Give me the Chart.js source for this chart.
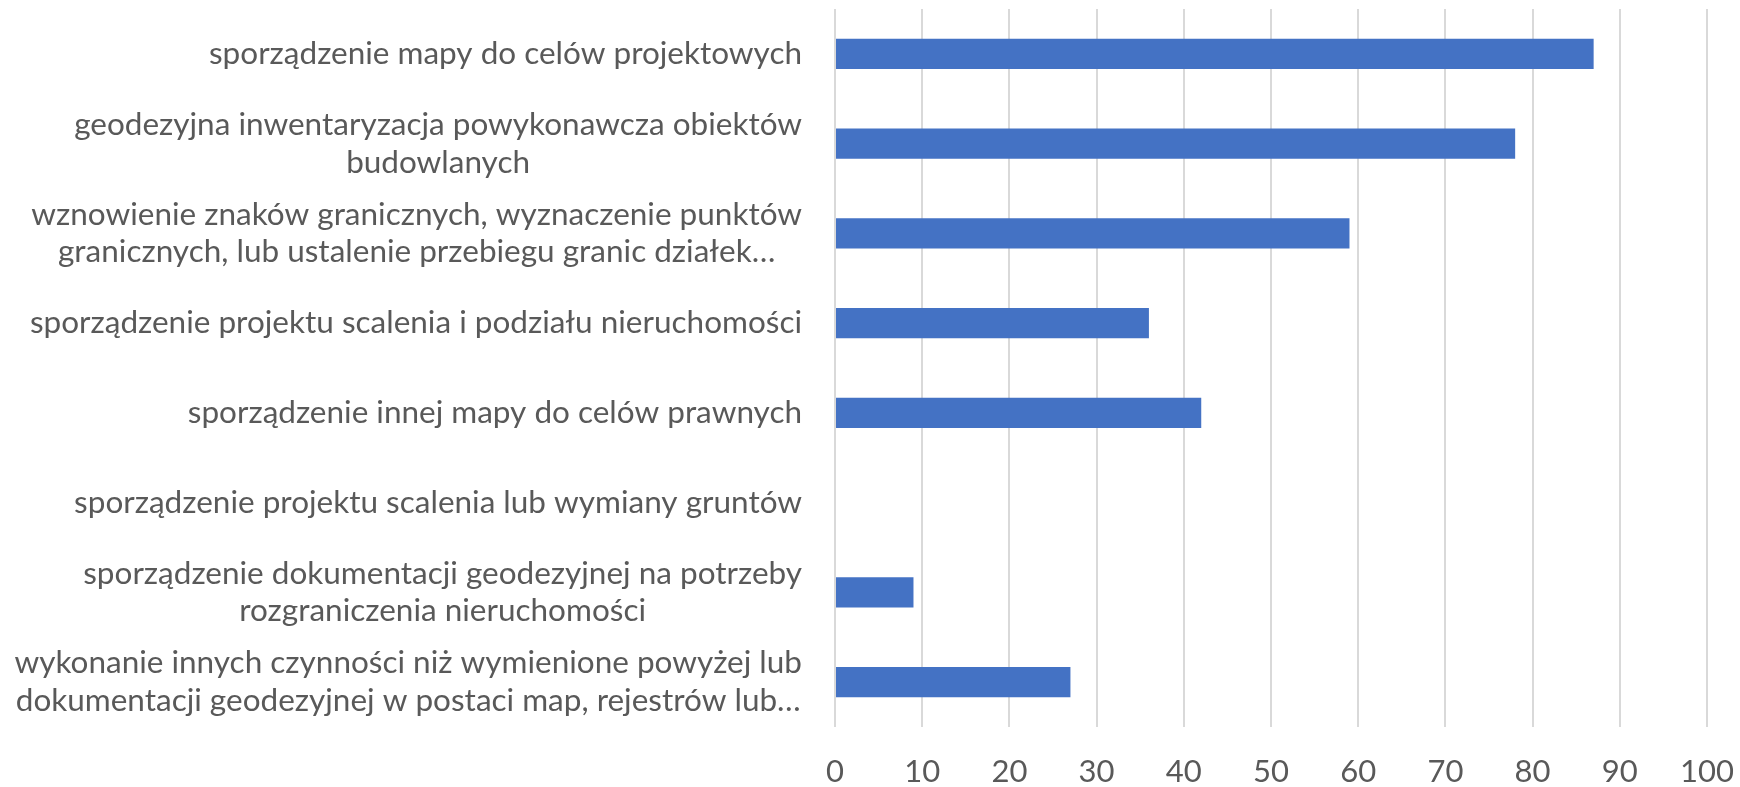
<!DOCTYPE html>
<html><head><meta charset="utf-8">
<script src="https://cdn.jsdelivr.net/npm/chart.js@4.4.1/dist/chart.umd.min.js"></script>
<style>html,body{margin:0;padding:0;background:#fff}#wrap{width:1740px;height:787px;position:relative}</style>
</head><body><div id="wrap"><canvas id="c"></canvas></div>
<script>
const categories = [
  ["sporządzenie mapy do celów projektowych"],
  ["geodezyjna inwentaryzacja powykonawcza obiektów", "budowlanych"],
  ["wznowienie znaków granicznych, wyznaczenie punktów", "granicznych, lub ustalenie przebiegu granic działek…"],
  ["sporządzenie projektu scalenia i podziału nieruchomości"],
  ["sporządzenie innej mapy do celów prawnych"],
  ["sporządzenie projektu scalenia lub wymiany gruntów"],
  ["sporządzenie dokumentacji geodezyjnej na potrzeby", "rozgraniczenia nieruchomości"],
  ["wykonanie innych czynności niż wymienione powyżej lub", "dokumentacji geodezyjnej w postaci map, rejestrów lub…"]
];
const values = [87, 78, 59, 36, 42, 0, 9, 27];
const xMin = 0, xMax = 100, xStep = 10;

const FONT = 'Lato, "Open Sans", sans-serif';
const FS = 31.5;
const TFS = 31;
const LH = 37.7;
const GAP = 33;
const TEXT = '#595959';

const labelPlugin = {
  id: 'ylabels',
  afterDraw(chart) {
    const ys = chart.scales.y, ctx = chart.ctx;
    ctx.save();
    ctx.font = FS + 'px ' + FONT;
    ctx.fillStyle = TEXT;
    ctx.textBaseline = 'middle';
    ctx.textAlign = 'center';
    const right = chart.chartArea.left - GAP;
    ys.ticks.forEach((t, i) => {
      const lines = categories[i];
      const w = Math.max(...lines.map(l => ctx.measureText(l).width));
      const cx = right - w / 2;
      const cy = ys.getPixelForTick(i);
      const n = lines.length;
      lines.forEach((l, k) => ctx.fillText(l, cx, cy + (k - (n - 1) / 2) * LH));
    });
    ctx.restore();
  }
};

new Chart(document.getElementById('c'), {
  type: 'bar',
  data: {
    labels: categories,
    datasets: [{
      data: values,
      backgroundColor: '#4472C4',
      borderWidth: 0,
      categoryPercentage: 1.0,
      barPercentage: 0.335
    }]
  },
  options: {
    indexAxis: 'y',
    responsive: true,
    maintainAspectRatio: false,
    animation: false,
    layout: { padding: { top: 9, right: 33, bottom: 0, left: 0 } },
    plugins: { legend: { display: false }, tooltip: { enabled: false } },
    scales: {
      x: {
        min: xMin, max: xMax,
        ticks: { stepSize: xStep, color: TEXT, font: { family: FONT, size: TFS }, padding: 0 },
        grid: { color: '#d9d9d9', lineWidth: 2, drawTicks: true, tickLength: 26, tickColor: 'rgba(0,0,0,0)' },
        border: { display: false },
        afterFit(s) { s.height = 60; }
      },
      y: {
        ticks: { display: false },
        grid: { display: false },
        border: { display: false },
        afterFit(s) { s.width = 835; }
      }
    }
  },
  plugins: [labelPlugin]
});
</script></body></html>
